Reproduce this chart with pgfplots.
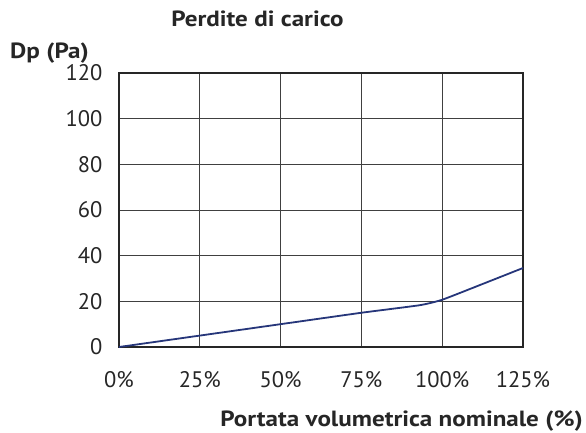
\documentclass[border=0pt]{standalone}
\usepackage{pgfplots}
\pgfplotsset{compat=1.18}
\usepackage{fontspec}
\setmainfont{PT Sans}
\newfontfamily\widebold[FakeStretch=1.14]{PT Sans Bold}
\definecolor{navy}{RGB}{38,54,122}
\begin{document}
\begin{tikzpicture}[x=1pt,y=1pt]
\path[use as bounding box] (-119,-85) rectangle (467,347);
\begin{axis}[
  at={(0,0)}, anchor=origin,
  scale only axis, width=404pt, height=274pt,
  xmin=0, xmax=125, ymin=0, ymax=120,
  xtick={0,25,50,75,100,125},
  xticklabels={0\%,25\%,50\%,75\%,100\%,125\%},
  ytick={0,20,40,60,80,100,120},
  major tick length=0pt,
  grid=major,
  major grid style={line width=0.9pt, black!75},
  axis line style={line width=1.8pt, black!85},
  tick label style={font=\fontsize{22.5}{25}\selectfont, black!85},
  xticklabel style={yshift=-21pt},
  yticklabel style={xshift=-13pt},
  /pgf/number format/assume math mode=true,
  clip=false,
]
\addplot[navy, line width=1.8pt, smooth, tension=0.3] coordinates {
  (0,0) (25,5) (50,10) (75,15) (93,18.3) (100,20.7) (112.5,27.6) (125,34.6)
};
\end{axis}
\node[anchor=base, font=\widebold\fontsize{22}{24}\selectfont, black!85, inner sep=0pt] at (138.5,320) {Perdite di carico};
\node[anchor=base west, font=\widebold\fontsize{22}{24}\selectfont, black!85, inner sep=0pt] at (-109,289) {Dp (Pa)};
\node[anchor=base east, font=\widebold\fontsize{22}{24}\selectfont, black!85, inner sep=0pt] at (464,-79) {Portata volumetrica nominale (\%)};
\end{tikzpicture}
\end{document}
